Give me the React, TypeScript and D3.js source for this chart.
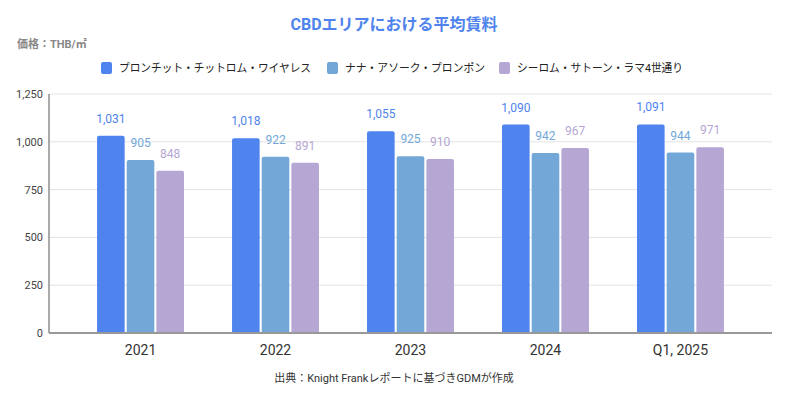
import React from "react";
import * as d3 from "d3";

// データ
const categories = ["2021", "2022", "2023", "2024", "Q1, 2025"];
const seriesNames = [
  "プロンチット・チットロム・ワイヤレス",
  "ナナ・アソーク・プロンポン",
  "シーロム・サトーン・ラマ4世通り",
];
const ploenchit = [1031, 1018, 1055, 1090, 1091];
const nanaAsoke = [905, 922, 925, 942, 944];
const silom = [848, 891, 910, 967, 971];
const yTicks = [0, 250, 500, 750, 1000, 1250];

const colors = ["#4f83ee", "#73a7d8", "#b5a6d3"];
const series = [ploenchit, nanaAsoke, silom];

const W = 788;
const H = 399;
const margin = { left: 49, right: 16, top: 94, bottom: 66 };
const font = "Roboto, 'Noto Sans CJK JP', sans-serif";

/** 上側だけ角丸のバー */
function barPath(x: number, y: number, w: number, h: number, r: number) {
  const rr = Math.min(r, h / 2, w / 2);
  return `M${x},${y + h}V${y + rr}Q${x},${y} ${x + rr},${y}H${x + w - rr}Q${x + w},${y} ${x + w},${y + rr}V${y + h}Z`;
}

export default function App() {
  const x0 = d3
    .scaleBand<string>()
    .domain(categories)
    .range([margin.left, W - margin.right])
    .padding(0.356);
  const x1 = d3
    .scaleBand<number>()
    .domain([0, 1, 2])
    .range([0, x0.bandwidth()])
    .paddingInner(0.07);
  const y = d3
    .scaleLinear()
    .domain([0, 1250])
    .range([H - margin.bottom, margin.top]);
  const fmt = d3.format(",");

  // 凡例の位置と文字幅
  const legendX = [101, 327, 499];
  const legendLen = [192, 140, 166];

  return (
    <svg width={W} height={H} style={{ position: "absolute", left: 0, top: 0, background: "#fff" }} fontFamily={font}>
      {/* タイトル */}
      <text x={W / 2} y={30} textAnchor="middle" fontSize={16} fontWeight="bold" fill="#4f83ee">
        CBDエリアにおける平均賃料
      </text>
      <text x={17} y={48} fontSize={11} fontWeight="bold" fill="#888">
        価格：THB/㎡
      </text>

      {/* 凡例 */}
      {seriesNames.map((name, i) => (
        <g key={name} transform={`translate(${legendX[i]},68)`}>
          <rect x={0} y={-6} width={11} height={12} rx={2} fill={colors[i]} />
          <text x={18} y={4} fontSize={11.5} fill="#222" textLength={legendLen[i]} lengthAdjust="spacingAndGlyphs">
            {name}
          </text>
        </g>
      ))}

      {/* グリッド */}
      {yTicks.map((t) => (
        <g key={t}>
          {t > 0 && (
            <line x1={margin.left} x2={W - margin.right} y1={y(t)} y2={y(t)} stroke="#e3e3e3" strokeWidth={1} />
          )}
          <text x={margin.left - 6} y={y(t) + 4} textAnchor="end" fontSize={11} fill="#444">
            {fmt(t)}
          </text>
        </g>
      ))}

      {/* バー */}
      {categories.map((c, ci) => (
        <g key={c} transform={`translate(${x0(c)},0)`}>
          {series.map((s, si) => {
            const bx = x1(si)!;
            const by = y(s[ci]);
            return (
              <g key={si}>
                <path d={barPath(bx, by, x1.bandwidth(), y(0) - by, 2)} fill={colors[si]} />
                <text
                  x={bx + x1.bandwidth() / 2}
                  y={by - 13}
                  textAnchor="middle"
                  fontSize={12}
                  fill={colors[si]}
                >
                  {fmt(s[ci])}
                </text>
              </g>
            );
          })}
          <text x={x0.bandwidth() / 2} y={H - margin.bottom + 22} textAnchor="middle" fontSize={14} fill="#333">
            {c}
          </text>
        </g>
      ))}

      {/* 軸線 */}
      <line x1={margin.left} x2={margin.left} y1={margin.top} y2={y(0)} stroke="#555" strokeWidth={1} />
      <line x1={margin.left} x2={W - margin.right} y1={y(0)} y2={y(0)} stroke="#999" strokeWidth={2} />

      {/* 出典 */}
      <text x={W / 2} y={382} textAnchor="middle" fontSize={11} fill="#333">
        出典：Knight Frankレポートに基づきGDMが作成
      </text>
    </svg>
  );
}
